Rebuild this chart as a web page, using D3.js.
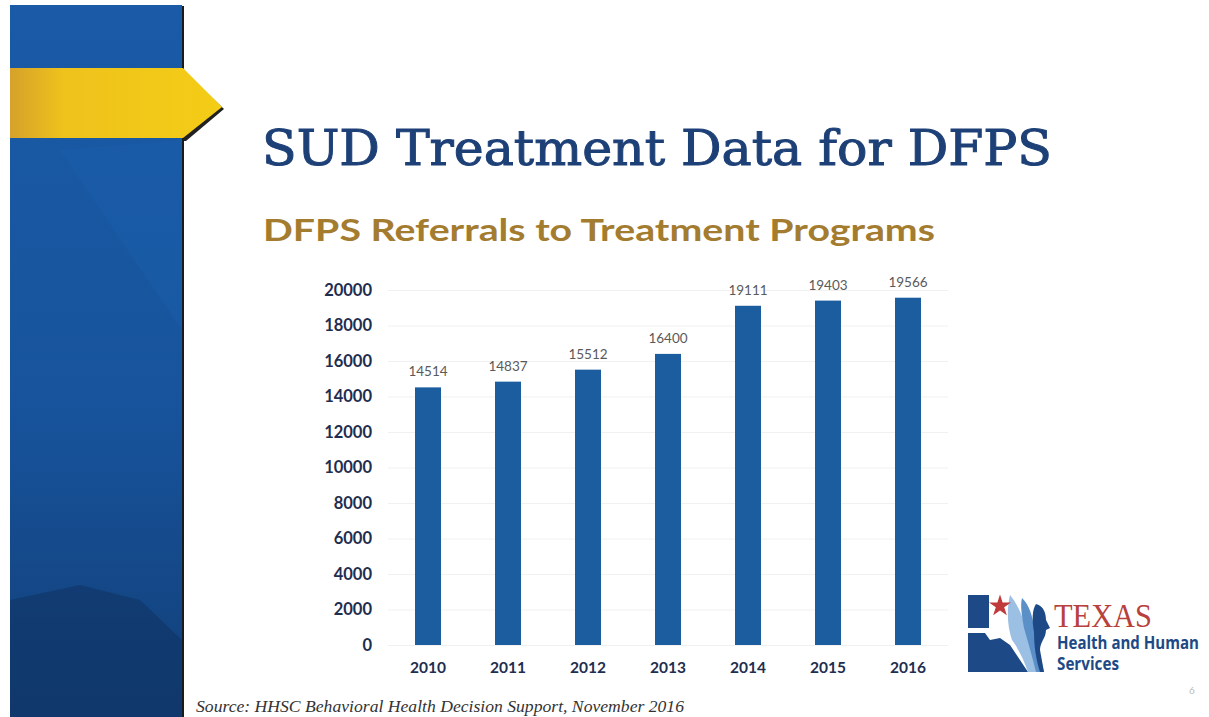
<!DOCTYPE html>
<html>
<head>
<meta charset="utf-8">
<script src="https://cdn.jsdelivr.net/npm/d3@7"></script>
<style>
  html, body { margin: 0; padding: 0; background: #fff; }
  svg { display: block; }
</style>
</head>
<body>
<svg id="slide" width="1209" height="717"></svg>
<script>
// chart data
const years = ['2010', '2011', '2012', '2013', '2014', '2015', '2016'];
const referrals = [14514, 14837, 15512, 16400, 19111, 19403, 19566];
const yTicks = [0, 2000, 4000, 6000, 8000, 10000, 12000, 14000, 16000, 18000, 20000];

const svg = d3.select('#slide');
const defs = svg.append('defs');

// left banner
const blueGrad = defs.append('linearGradient').attr('id', 'blueGrad')
  .attr('x1', 0).attr('y1', 0).attr('x2', 0).attr('y2', 1);
blueGrad.append('stop').attr('offset', '0%').attr('stop-color', '#1a5aa6');
blueGrad.append('stop').attr('offset', '55%').attr('stop-color', '#17549d');
blueGrad.append('stop').attr('offset', '100%').attr('stop-color', '#123f78');

const goldGrad = defs.append('linearGradient').attr('id', 'goldGrad')
  .attr('x1', 0).attr('y1', 0).attr('x2', 1).attr('y2', 0);
goldGrad.append('stop').attr('offset', '0%').attr('stop-color', '#d6a12a');
goldGrad.append('stop').attr('offset', '25%').attr('stop-color', '#efc21c');
goldGrad.append('stop').attr('offset', '100%').attr('stop-color', '#f4cd16');

const banner = svg.append('g').attr('class', 'banner');
banner.append('rect').attr('x', 182).attr('y', 6).attr('width', 2).attr('height', 711).attr('fill', '#1b1b1b');
banner.append('rect').attr('x', 10).attr('y', 5).attr('width', 172).attr('height', 712).attr('fill', 'url(#blueGrad)');
banner.append('path')
  .attr('d', 'M10,600 L80,585 L140,600 L182,640 L182,717 L10,717 Z')
  .attr('fill', '#0f3464').attr('opacity', 0.6);
banner.append('path')
  .attr('d', 'M182,140 L182,330 L60,150 Z')
  .attr('fill', '#1e62b0').attr('opacity', 0.35);
banner.append('path')
  .attr('d', 'M184,71 L224,109 L186,141 L184,141 Z')
  .attr('fill', '#222');
banner.append('path')
  .attr('d', 'M10,68 L183,68 L222,107 L183,138 L10,138 Z')
  .attr('fill', 'url(#goldGrad)');

// titles
svg.append('text')
  .attr('x', 262).attr('y', 165)
  .attr('textLength', 790).attr('lengthAdjust', 'spacingAndGlyphs')
  .style('font-family', '"DejaVu Serif", serif')
  .style('font-size', '48px')
  .style('fill', '#1d4077')
  .style('stroke', '#1d4077')
  .style('stroke-width', '1px')
  .text('SUD Treatment Data for DFPS');

svg.append('text')
  .attr('x', 263).attr('y', 241)
  .attr('textLength', 672).attr('lengthAdjust', 'spacingAndGlyphs')
  .style('font-family', 'Lato, "Open Sans", sans-serif')
  .style('font-weight', 'bold')
  .style('font-size', '31px')
  .style('fill', '#a47c30')
  .text('DFPS Referrals to Treatment Programs');

// chart
const plot = { left: 388, right: 948, top: 290, bottom: 645 };

const x = d3.scaleBand()
  .domain(years)
  .range([plot.left, plot.right])
  .paddingInner(0.675)
  .paddingOuter(0.3375);

const y = d3.scaleLinear()
  .domain([0, 20000])
  .range([plot.bottom, plot.top]);

const chart = svg.append('g').attr('class', 'chart');

// faint gridlines
chart.append('g')
  .attr('transform', 'translate(' + plot.left + ',0)')
  .call(d3.axisLeft(y).tickValues(yTicks).tickSize(-(plot.right - plot.left)).tickFormat(''))
  .call(g => g.select('.domain').remove())
  .call(g => g.selectAll('line').attr('stroke', '#f1f1f1').attr('stroke-width', 1));

chart.append('g')
  .attr('transform', 'translate(' + (plot.left - 16) + ',0)')
  .call(d3.axisLeft(y).tickValues(yTicks).tickSize(0).tickPadding(0).tickFormat(d3.format('d')))
  .call(g => g.select('.domain').remove())
  .call(g => g.selectAll('text')
    .style('font-family', 'Lato, "Open Sans", sans-serif')
    .style('font-weight', 'bold')
    .style('font-size', '16.5px')
    .style('fill', '#1f2d4f'));

chart.selectAll('rect.bar')
  .data(referrals)
  .enter()
  .append('rect')
  .attr('class', 'bar')
  .attr('x', (d, i) => x(years[i]))
  .attr('width', x.bandwidth())
  .attr('y', d => y(d))
  .attr('height', d => y(0) - y(d))
  .attr('fill', '#1b5d9f');

chart.selectAll('text.val')
  .data(referrals)
  .enter()
  .append('text')
  .attr('class', 'val')
  .attr('x', (d, i) => x(years[i]) + x.bandwidth() / 2)
  .attr('y', d => y(d) - 11)
  .attr('text-anchor', 'middle')
  .style('font-family', 'Lato, "Open Sans", sans-serif')
  .style('font-size', '13.5px')
  .style('fill', '#5a5a5a')
  .text(d => d);

chart.append('g')
  .attr('transform', 'translate(0,' + (plot.bottom + 17) + ')')
  .call(d3.axisBottom(x).tickSize(0).tickPadding(0))
  .call(g => g.select('.domain').remove())
  .call(g => g.selectAll('text')
    .style('font-family', 'Lato, "Open Sans", sans-serif')
    .style('font-weight', 'bold')
    .style('font-size', '15.5px')
    .style('fill', '#1f2d4f'));

// source note
svg.append('text')
  .attr('x', 196).attr('y', 712)
  .attr('textLength', 488).attr('lengthAdjust', 'spacingAndGlyphs')
  .style('font-family', '"Liberation Serif", serif')
  .style('font-style', 'italic')
  .style('font-size', '17px')
  .style('fill', '#333')
  .text('Source: HHSC Behavioral Health Decision Support, November 2016');

svg.append('text')
  .attr('x', 1189).attr('y', 694)
  .style('font-family', 'Lato, sans-serif')
  .style('font-size', '10px')
  .style('fill', '#bbb')
  .text('6');

// logo
const logo = svg.append('g').attr('class', 'logo');
logo.append('rect').attr('x', 968).attr('y', 595).attr('width', 21).attr('height', 33).attr('fill', '#1d4a86');
logo.append('path')
  .attr('d', 'M968,633 L985,633 L990,640 L1000,638 L1010,645 L1020,660 L1028,672 L968,672 Z')
  .attr('fill', '#1d4a86');
logo.append('path')
  .attr('d', 'M1010,595 C1018,605 1022,615 1025,625 C1030,640 1036,655 1040,672 L1028,672 C1024,660 1018,648 1012,640 C1008,628 1006,612 1010,595 Z')
  .attr('fill', '#9cc0e4');
logo.append('path')
  .attr('d', 'M1022,598 C1030,606 1032,616 1034,626 C1036,640 1040,656 1044,672 L1036,672 C1032,656 1028,642 1024,628 C1022,616 1020,606 1022,598 Z')
  .attr('fill', '#5b8fc8');
logo.append('path')
  .attr('d', 'M1036,604 C1044,606 1046,614 1046,620 L1050,628 L1046,630 C1046,638 1040,642 1040,650 L1044,672 L1040,672 C1036,660 1034,646 1034,632 C1032,620 1032,610 1036,604 Z')
  .attr('fill', '#1d4a86');
const star = d3.symbol().type(d3.symbolStar).size(150);
logo.append('path')
  .attr('d', star())
  .attr('transform', 'translate(1000,606)')
  .attr('fill', '#c0393b');
logo.append('text')
  .attr('x', 1054).attr('y', 627)
  .attr('textLength', 98).attr('lengthAdjust', 'spacingAndGlyphs')
  .style('font-family', '"Liberation Serif", serif')
  .style('font-size', '34px')
  .style('fill', '#b8403d')
  .text('TEXAS');

// condensed sans lines, squeezed horizontally to the logo's width
[['Health and Human', 649, 142], ['Services', 670, 62]].forEach(([txt, by, w]) => {
  const t = logo.append('text')
    .attr('x', 0).attr('y', 0)
    .style('font-family', '"Open Sans", sans-serif')
    .style('font-weight', 'bold')
    .style('font-size', '17px')
    .style('fill', '#1d4a86')
    .text(txt);
  const k = w / t.node().getComputedTextLength();
  t.attr('transform', 'translate(1057,' + by + ') scale(' + k + ',1)');
});
</script>
</body>
</html>
